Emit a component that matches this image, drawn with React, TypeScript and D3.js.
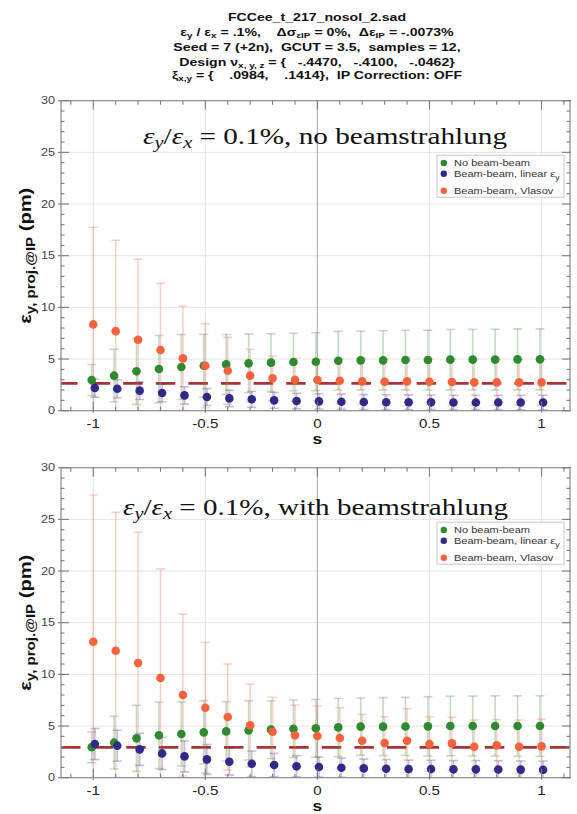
import React from 'react';
import * as d3 from 'd3';

// ---------- data ----------
const sValues = [-1, -0.9, -0.8, -0.7, -0.6, -0.5, -0.4, -0.3, -0.2, -0.1, 0, 0.1, 0.2, 0.3, 0.4, 0.5, 0.6, 0.7, 0.8, 0.9, 1];
const xTickValues = [-1, -0.5, 0, 0.5, 1];
const xTickLabels = ['-1', '-0.5', '0', '0.5', '1'];
const yTickValues = [0, 5, 10, 15, 20, 25, 30];
const yTickLabels = ['0', '5', '10', '15', '20', '25', '30'];
const seriesNames = ['No beam-beam', 'Beam-beam, linear ', 'Beam-beam, Vlasov'];

// top panel: no beamstrahlung
const topNoBB = [2.97, 3.39, 3.81, 4.03, 4.23, 4.35, 4.48, 4.58, 4.65, 4.71, 4.74, 4.84, 4.87, 4.87, 4.9, 4.9, 4.94, 4.94, 4.94, 4.97, 4.97];
const topNoBBErr = [1.5, 2.55, 3.2, 3.25, 3.15, 3.05, 2.9, 2.85, 2.8, 2.78, 2.8, 2.84, 2.85, 2.87, 2.88, 2.9, 2.92, 2.93, 2.94, 2.95, 2.95];
const topLinear = [2.19, 2.13, 1.94, 1.71, 1.48, 1.32, 1.19, 1.1, 1.0, 0.94, 0.9, 0.87, 0.84, 0.82, 0.82, 0.81, 0.8, 0.8, 0.8, 0.79, 0.79];
const topLinearErr = [0.88, 0.87, 0.86, 0.85, 0.84, 0.82, 0.8, 0.78, 0.76, 0.75, 0.74, 0.73, 0.72, 0.72, 0.71, 0.71, 0.7, 0.7, 0.7, 0.7, 0.7];
const topVlasov = [8.35, 7.7, 6.87, 5.87, 5.06, 4.35, 3.87, 3.39, 3.13, 3.0, 2.97, 2.9, 2.84, 2.8, 2.84, 2.8, 2.77, 2.74, 2.74, 2.74, 2.74];
const topVlasovErr = [9.4, 8.8, 7.8, 6.45, 5.05, 4.07, 3.23, 2.55, 2.17, 2.05, 2.0, 2.1, 2.2, 2.2, 2.35, 2.2, 2.2, 2.2, 2.2, 2.2, 2.2];
const topRefLevel = 2.65;

// bottom panel: with beamstrahlung
const botNoBB = [2.94, 3.39, 3.81, 4.1, 4.23, 4.39, 4.48, 4.58, 4.65, 4.74, 4.78, 4.87, 4.94, 4.94, 4.96, 4.97, 5.0, 5.0, 5.0, 5.0, 5.0];
const botNoBBErr = [1.5, 2.55, 3.2, 3.22, 3.1, 3.06, 2.87, 2.87, 2.8, 2.78, 2.8, 2.81, 2.77, 2.8, 2.81, 2.87, 2.88, 2.9, 2.92, 2.93, 2.94];
const botLinear = [3.26, 3.1, 2.74, 2.35, 2.06, 1.77, 1.55, 1.35, 1.23, 1.1, 1.03, 0.97, 0.9, 0.87, 0.84, 0.84, 0.81, 0.81, 0.8, 0.78, 0.77];
const botLinearErr = [1.5, 1.5, 1.55, 1.55, 1.5, 1.45, 1.3, 1.23, 1.12, 1.03, 0.97, 0.93, 0.9, 0.88, 0.86, 0.85, 0.85, 0.85, 0.84, 0.84, 0.84];
const botVlasov = [13.16, 12.29, 11.1, 9.65, 8.0, 6.77, 5.87, 5.06, 4.45, 4.1, 4.03, 3.84, 3.58, 3.35, 3.58, 3.26, 3.32, 3.0, 3.13, 3.0, 3.03];
const botVlasovErr = [14.2, 13.4, 12.65, 10.55, 7.84, 6.33, 5.13, 4.0, 3.32, 2.93, 2.91, 2.93, 2.55, 2.55, 3.1, 2.64, 2.55, 2.58, 2.5, 2.58, 2.62];
const botRefLevel = 2.94;

// ---------- style ----------
const W = 577, H = 814;
const X0 = 61, X1 = 570;
const ST = 1.24; // horizontal text stretch
const SANS = "'Liberation Sans', Arial, sans-serif";
const SERIF = "'Liberation Serif', 'Times New Roman', serif";
const colors = ['#2e8a2e', '#2f2a88', '#f6623d'];
const errColors = ['rgba(60,150,60,0.32)', 'rgba(60,55,160,0.32)', 'rgba(250,110,80,0.32)'];
const offsets = [-0.007, 0.007, 0];

const xScale = d3.scaleLinear().domain([-1.144, 1.127]).range([X0, X1]);

type Sub = [string, boolean];

function SubText({ parts, size, subSize, shift }: { parts: Sub[]; size: number; subSize: number; shift: number }) {
  let cur = 0;
  return (
    <>
      {parts.map(([t, sub], i) => {
        const target = sub ? shift : 0;
        const dy = target - cur;
        cur = target;
        return (
          <tspan key={i} dy={dy} fontSize={sub ? subSize : size}>
            {t}
          </tspan>
        );
      })}
    </>
  );
}

function Panel({ top, noBB, noBBErr, lin, linErr, vla, vlaErr, ref, ann, annX, annY, annLen, idx }: any) {
  const bottom = top + 310;
  const y = d3.scaleLinear().domain([0, 30]).range([bottom, top]);
  const clipId = `clip${idx}`;
  const series = [
    { v: noBB, e: noBBErr },
    { v: lin, e: linErr },
    { v: vla, e: vlaErr },
  ];
  const minorY = d3.range(0, 31, 1);
  const minorX = d3.range(-11, 12, 1).map((d) => d / 10);
  const legX = 437, legY = top + 54.5;
  return (
    <g>
      <defs>
        <clipPath id={clipId}>
          <rect x={X0} y={top} width={X1 - X0} height={bottom - top} />
        </clipPath>
      </defs>
      <rect x={X0} y={top} width={X1 - X0} height={bottom - top} fill="#fff" />
      {/* grid */}
      {yTickValues.slice(1, -1).map((t) => (
        <line key={'gy' + t} x1={X0} x2={X1} y1={y(t)} y2={y(t)} stroke="#e4e4e4" strokeWidth={1} />
      ))}
      {xTickValues.map((t) => (
        <line key={'gx' + t} x1={xScale(t)} x2={xScale(t)} y1={top} y2={bottom} stroke={t === 0 ? '#b4b4b4' : '#e4e4e4'} strokeWidth={t === 0 ? 1.2 : 1} />
      ))}
      <g clipPath={`url(#${clipId})`}>
        {/* reference dashed line */}
        <line x1={X0} x2={X1} y1={y(ref)} y2={y(ref)} stroke="#a83434" strokeWidth={2.8} strokeDasharray="19.5 13.1" strokeDashoffset={idx === 0 ? 3 : 0} />
        {/* error bars */}
        {series.map((s, k) =>
          sValues.map((sv, i) => {
            const cx = xScale(sv + offsets[k]);
            const lo = y(s.v[i] - s.e[i]);
            const hi = y(s.v[i] + s.e[i]);
            return (
              <g key={`e${k}-${i}`} stroke={errColors[k]} strokeWidth={1.6}>
                <line x1={cx} x2={cx} y1={lo} y2={hi} />
                <line x1={cx - 4.5} x2={cx + 4.5} y1={lo} y2={lo} />
                <line x1={cx - 4.5} x2={cx + 4.5} y1={hi} y2={hi} />
              </g>
            );
          })
        )}
        {/* markers */}
        {series.map((s, k) =>
          sValues.map((sv, i) => (
            <circle key={`m${k}-${i}`} cx={xScale(sv + offsets[k])} cy={y(s.v[i])} r={4.3} fill={colors[k]} />
          ))
        )}
      </g>
      {/* frame */}
      <rect x={X0} y={top} width={X1 - X0} height={bottom - top} fill="none" stroke="#8a8a8a" strokeWidth={1.2} />
      {/* y ticks */}
      {minorY.map((t) => {
        const major = t % 5 === 0;
        return (
          <g key={'ty' + t} stroke="#7a7a7a" strokeWidth={1.1}>
            <line x1={major ? X0 - 3 : X0} x2={X0 + (major ? 8 : 3.5)} y1={y(t)} y2={y(t)} />
            <line x1={major ? X1 + 1 : X1} x2={X1 - (major ? 8 : 3.5)} y1={y(t)} y2={y(t)} />
          </g>
        );
      })}
      {/* x ticks */}
      {minorX.map((t) => {
        const major = Math.abs(Math.round(t * 10) % 5) === 0;
        const px = xScale(t);
        return (
          <g key={'tx' + t} stroke="#7a7a7a" strokeWidth={1.1}>
            <line x1={px} x2={px} y1={bottom + (major ? 2 : 0)} y2={bottom - (major ? 9 : 4)} />
            <line x1={px} x2={px} y1={top} y2={top + (major ? 9 : 4)} />
          </g>
        );
      })}
      {/* y tick labels */}
      {yTickValues.map((t, i) => (
        <text key={'ly' + t} transform={`translate(55,${y(t) + 3.6}) scale(${ST},1)`} textAnchor="end" fontFamily={SANS} fontSize={10.2} fill="#444">
          {yTickLabels[i]}
        </text>
      ))}
      {/* x tick labels */}
      {xTickValues.map((t, i) => (
        <text key={'lx' + t} transform={`translate(${xScale(t)},${bottom + 17}) scale(${ST},1)`} textAnchor="middle" fontFamily={SANS} fontSize={12.2} fill="#222">
          {xTickLabels[i]}
        </text>
      ))}
      {/* x label */}
      <text transform={`translate(${xScale(0)},${bottom + 33}) scale(${ST},1)`} textAnchor="middle" fontFamily={SANS} fontSize={14} fontWeight="bold" fill="#111">
        s
      </text>
      {/* y label */}
      <text
        transform={`translate(31,${(top + bottom) / 2}) scale(${ST},1) rotate(-90)`}
        textAnchor="middle"
        fontFamily={SANS}
        fontWeight="bold"
        fill="#111"
        textLength={136}
        lengthAdjust="spacingAndGlyphs"
        style={{ whiteSpace: 'pre' }}
      >
        <SubText parts={[['ε', false], ['y, proj.@IP', true], [' (pm)', false]]} size={14} subSize={10.5} shift={3} />
      </text>
      {/* annotation */}
      <text x={annX} y={annY} textLength={annLen} lengthAdjust="spacingAndGlyphs" fontFamily={SERIF} fontSize={23} fill="#111" style={{ whiteSpace: 'pre' }}>
        <tspan fontStyle="italic">ε</tspan>
        <tspan fontStyle="italic" fontSize={16} dy={4}>y</tspan>
        <tspan dy={-4}>/</tspan>
        <tspan fontStyle="italic">ε</tspan>
        <tspan fontStyle="italic" fontSize={16} dy={4}>x</tspan>
        <tspan dy={-4}>{' = 0.1%, ' + ann}</tspan>
      </text>
      {/* legend */}
      <rect x={legX} y={legY} width={127} height={42} fill="#fff" stroke="#c8c8c8" strokeWidth={1} />
      {[7.8, 18.6, 35.6].map((dy, k) => (
        <g key={'lg' + k}>
          <circle cx={legX + 6.8} cy={legY + dy} r={3.2} fill={colors[k]} />
          <text transform={`translate(${legX + 17},${legY + dy + 3.2}) scale(${ST},1)`} fontFamily={SANS} fontSize={8.9} fill="#333" style={{ whiteSpace: 'pre' }}>
            {k === 1 ? (
              <SubText parts={[[seriesNames[k], false], ['ε', false], ['y', true]]} size={8.9} subSize={7} shift={2.5} />
            ) : (
              seriesNames[k]
            )}
          </text>
        </g>
      ))}
    </g>
  );
}

const titleLines: Sub[][] = [
  [['FCCee_t_217_nosol_2.sad', false]],
  [
    ['ε', false], ['y', true], [' / ε', false], ['x', true], [' = .1%,    Δσ', false], ['εIP', true], [' = 0%,  Δε', false], ['IP', true], [' = -.0073%', false],
  ],
  [['Seed = 7 (+2n),  GCUT = 3.5,  samples = 12,', false]],
  [['Design ν', false], ['x, y, z', true], [' = {   -.4470,   -.4100,   -.0462}', false]],
  [['ξ', false], ['x,y', true], [' = {    .0984,    .1414},  IP Correction: OFF', false]],
];
const titleBaselines = [20.7, 36, 51, 66, 79];

export default function App() {
  return (
    <svg width={W} height={H} style={{ position: 'absolute', left: 0, top: 0, background: '#fff' }}>
      <rect width={W} height={H} fill="#fff" />
      {titleLines.map((parts, i) => (
        <text key={'t' + i} transform={`translate(317,${titleBaselines[i]}) scale(${ST},1)`} textAnchor="middle" fontFamily={SANS} fontWeight="bold" fill="#111" style={{ whiteSpace: 'pre' }}>
          <SubText parts={parts} size={11.4} subSize={8} shift={2} />
        </text>
      ))}
      <Panel idx={0} top={100.7} noBB={topNoBB} noBBErr={topNoBBErr} lin={topLinear} linErr={topLinearErr} vla={topVlasov} vlaErr={topVlasovErr} ref={topRefLevel} ann="no beamstrahlung" annX={143} annY={144} annLen={364} />
      <Panel idx={1} top={467.7} noBB={botNoBB} noBBErr={botNoBBErr} lin={botLinear} linErr={botLinearErr} vla={botVlasov} vlaErr={botVlasovErr} ref={botRefLevel} ann="with beamstrahlung" annX={123} annY={514.5} annLen={385} />
    </svg>
  );
}
